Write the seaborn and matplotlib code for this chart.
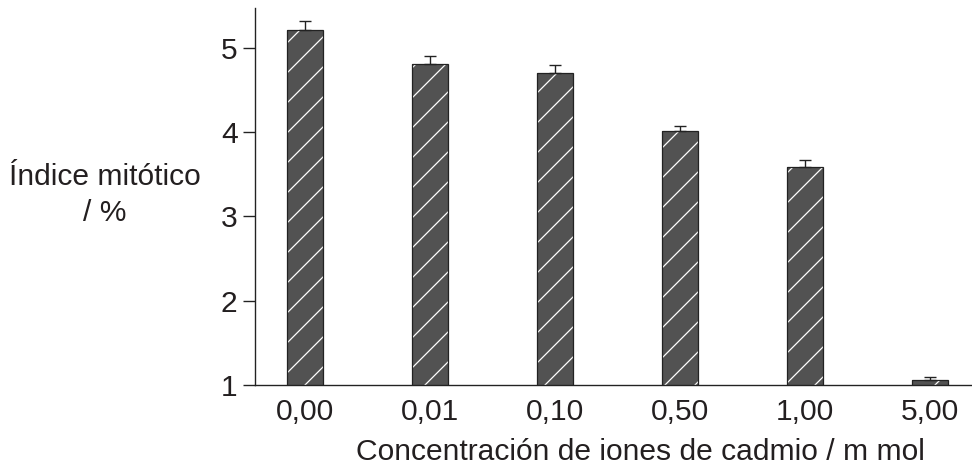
import numpy as np
import pandas as pd
import matplotlib
matplotlib.use("Agg")
import matplotlib.pyplot as plt
import seaborn as sns

# data
concentraciones = ["0,00", "0,01", "0,10", "0,50", "1,00", "5,00"]
indice_mitotico = [5.21, 4.81, 4.70, 4.01, 3.59, 1.06]
error_sup = [0.10, 0.09, 0.10, 0.06, 0.08, 0.03]
y_ticks = [1, 2, 3, 4, 5]

BAR_COLOR = "#525252"
TEXT_COLOR = "#231f20"
FS = 24  # pt at dpi 90 -> 30 px

sns.set_style("ticks")
plt.rcParams["font.family"] = ["Liberation Sans", "DejaVu Sans"]
plt.rcParams["hatch.linewidth"] = 1.0

df = pd.DataFrame({"conc": concentraciones, "indice": indice_mitotico})

# dpi 90 so one hatch unit = 90 px -> white lines ~15 px apart
DPI = 90
fig = plt.figure(figsize=(972 / DPI, 470 / DPI), dpi=DPI)
ax = fig.add_axes([255 / 972, 85 / 470, 1 - 255 / 972, (385 - 8) / 470])

# filled bars with white hatching
sns.barplot(data=df, x="conc", y="indice", ax=ax, color=BAR_COLOR,
            width=0.29, saturation=1, edgecolor="white", linewidth=0,
            hatch="/", errorbar=None)
# dark outline on top
sns.barplot(data=df, x="conc", y="indice", ax=ax, fill=False,
            width=0.29, edgecolor="#222222", linewidth=1.0, errorbar=None)

# upper error bars only
x = np.arange(len(concentraciones))
ax.errorbar(x, indice_mitotico, yerr=[np.zeros(len(x)), error_sup],
            fmt="none", ecolor="#222222", elinewidth=1.1, capsize=5,
            capthick=1.1, zorder=5)

ax.set_xlim(-0.4, len(x) - 1 + 0.336)
ax.set_ylim(1, 5.47)
ax.set_yticks(y_ticks)
ax.set_xlabel("")
ax.set_ylabel("")

sns.despine(ax=ax)
for s in ["left", "bottom"]:
    ax.spines[s].set_linewidth(1.1)
    ax.spines[s].set_color("#222222")

ax.tick_params(axis="y", length=10, width=1.1, pad=4, labelsize=FS,
               labelcolor=TEXT_COLOR, color="#222222")
ax.tick_params(axis="x", length=0, pad=10, labelsize=FS,
               labelcolor=TEXT_COLOR)

fig.text(105 / 972, 1 - 195 / 470, "Índice mitótico\n/ %", ha="center",
         va="center", multialignment="center", fontsize=FS,
         linespacing=1.35, color=TEXT_COLOR)
fig.text(640 / 972, 1 - 452 / 470, "Concentración de iones de cadmio / m mol",
         ha="center", va="center", fontsize=FS, color=TEXT_COLOR)

fig.savefig("out.png", dpi=DPI)
